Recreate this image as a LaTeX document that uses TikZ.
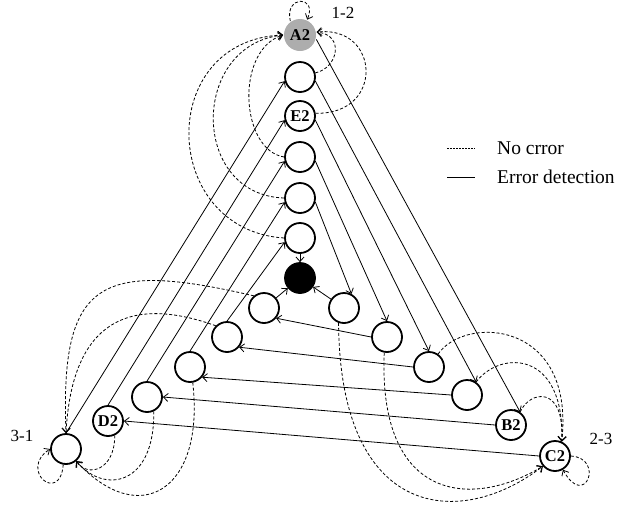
\documentclass[tikz,border=0pt]{standalone}
\usepackage{fontspec}
\setmainfont{Liberation Serif}
\usetikzlibrary{arrows.meta}

\begin{document}
\begin{tikzpicture}[x = 1pt, y = -1pt, >={Straight Barb[length=4.5pt,width=8pt]},
  cell/.style = {circle, draw, line width = 1.8pt, fill = white, minimum size = 30pt, inner sep = 0pt, font = \fontsize{16.5}{17}\selectfont\bfseries},
  err/.style = {->, line width = 0.8pt},
  ok/.style = {->, line width = 0.8pt, dash pattern = on 3pt off 2pt},
  tag/.style = {font = \fontsize{17}{18}\selectfont},
  key/.style = {anchor = west, inner sep = 0pt, font = \fontsize{19.5}{20}\selectfont}]
\useasboundingbox (0,0) rectangle (631,504);
\node[cell, draw = none, fill = black!32, minimum size = 32pt] (a2) at (300,35) {A2};
\node[cell] (c1) at (300,77) {};
\node[cell] (e2) at (300,116) {E2};
\node[cell] (c3) at (300,157) {};
\node[cell] (c4) at (300,198) {};
\node[cell] (c5) at (300,238) {};
\node[cell, fill = black] (k) at (300,278) {};
\node[cell] (l1) at (264,308) {};
\node[cell] (l2) at (227,337) {};
\node[cell] (l3) at (190,367) {};
\node[cell] (l4) at (147,397) {};
\node[cell] (d2) at (108,421) {D2};
\node[cell] (t31) at (66,449) {};
\node[cell] (r1) at (344,308) {};
\node[cell] (r2) at (387,337) {};
\node[cell] (r3) at (429,367) {};
\node[cell] (r4) at (467,395) {};
\node[cell] (b2) at (511,425) {B2};
\node[cell] (c2) at (555,456) {C2};
\node[tag] (n12) at (343,13) {1-2};
\node[tag] (n31) at (22,436) {3-1};
\node[tag] (n23) at (601,439) {2-3};
\draw[err] (t31.north) -- (c1.195);
\draw[err] (d2.north) -- (e2.195);
\draw[err] (l4.north) -- (c3.195);
\draw[err] (l3.north) -- (c4.195);
\draw[err] (l2.north) -- (c5.195);
\draw[err] (c5) -- (k);
\draw[err] (l1) -- (k);
\draw[err] (r1) -- (k);
\draw[err] (a2.-15) -- (b2.55);
\draw[err] (c1.-15) -- (r4.55);
\draw[err] (e2.-15) -- (r3.90);
\draw[err] (c3.-15) -- (r2.90);
\draw[err] (c4.-15) -- (r1.62);
\draw[err] (r2.west) -- (l1.-40);
\draw[err] (r3.west) -- (l2.-40);
\draw[err] (r4.west) -- (l3.-40);
\draw[err] (b2.west) -- (l4.east);
\draw[err] (c2.west) -- (d2.east);
\draw[ok] (a2.125) .. controls (284,-5) and (318,-5) .. (a2.65);
\draw[ok] (c1.15) .. controls (338,68) and (345,35) .. (a2.10);
\draw[ok] (e2.10) .. controls (385,115) and (380,25) .. (a2.10);
\draw[ok] (c3.west) .. controls (240,150) and (235,50) .. (a2.west);
\draw[ok] (c4.west) .. controls (190,195) and (190,45) .. (a2.west);
\draw[ok] (c5.west) .. controls (160,230) and (155,40) .. (a2.west);
\draw[ok] (l1.130) .. controls (100,260) and (60,280) .. (t31.north);
\draw[ok] (l2.135) .. controls (130,295) and (72,320) .. (t31.north);
\draw[ok] (d2.-65) .. controls (115,470) and (88,478) .. (t31.-50);
\draw[ok] (l4.-65) .. controls (155,485) and (105,495) .. (t31.-50);
\draw[ok] (l3.-80) .. controls (205,490) and (140,530) .. (t31.-50);
\draw[ok] (t31.-100) .. controls (60,505) and (18,470) .. (t31.west);
\draw[ok] (c2.east) .. controls (605,458) and (585,510) .. (c2.-60);
\draw[ok] (r1.-110) .. controls (340,520) and (460,530) .. (c2.-140);
\draw[ok] (r2.-100) .. controls (378,500) and (470,510) .. (c2.-140);
\draw[ok] (r3.55) .. controls (465,315) and (575,320) .. (c2.65);
\draw[ok] (r4.55) .. controls (500,350) and (565,350) .. (c2.65);
\draw[ok] (b2.55) .. controls (530,390) and (565,385) .. (c2.65);
\coordinate (k1a) at (447,148);
\coordinate (k1b) at (475,148);
\coordinate (k2a) at (447,177);
\coordinate (k2b) at (475,177);
\draw[line width = 0.6pt, dash pattern = on 2pt off 1pt] (k1a) -- (k1b);
\draw[line width = 1pt] (k2a) -- (k2b);
\node[key] (t1) at (497,148) {No crror};
\node[key] (t2) at (497,177) {Error detection};
\end{tikzpicture}
\end{document}
